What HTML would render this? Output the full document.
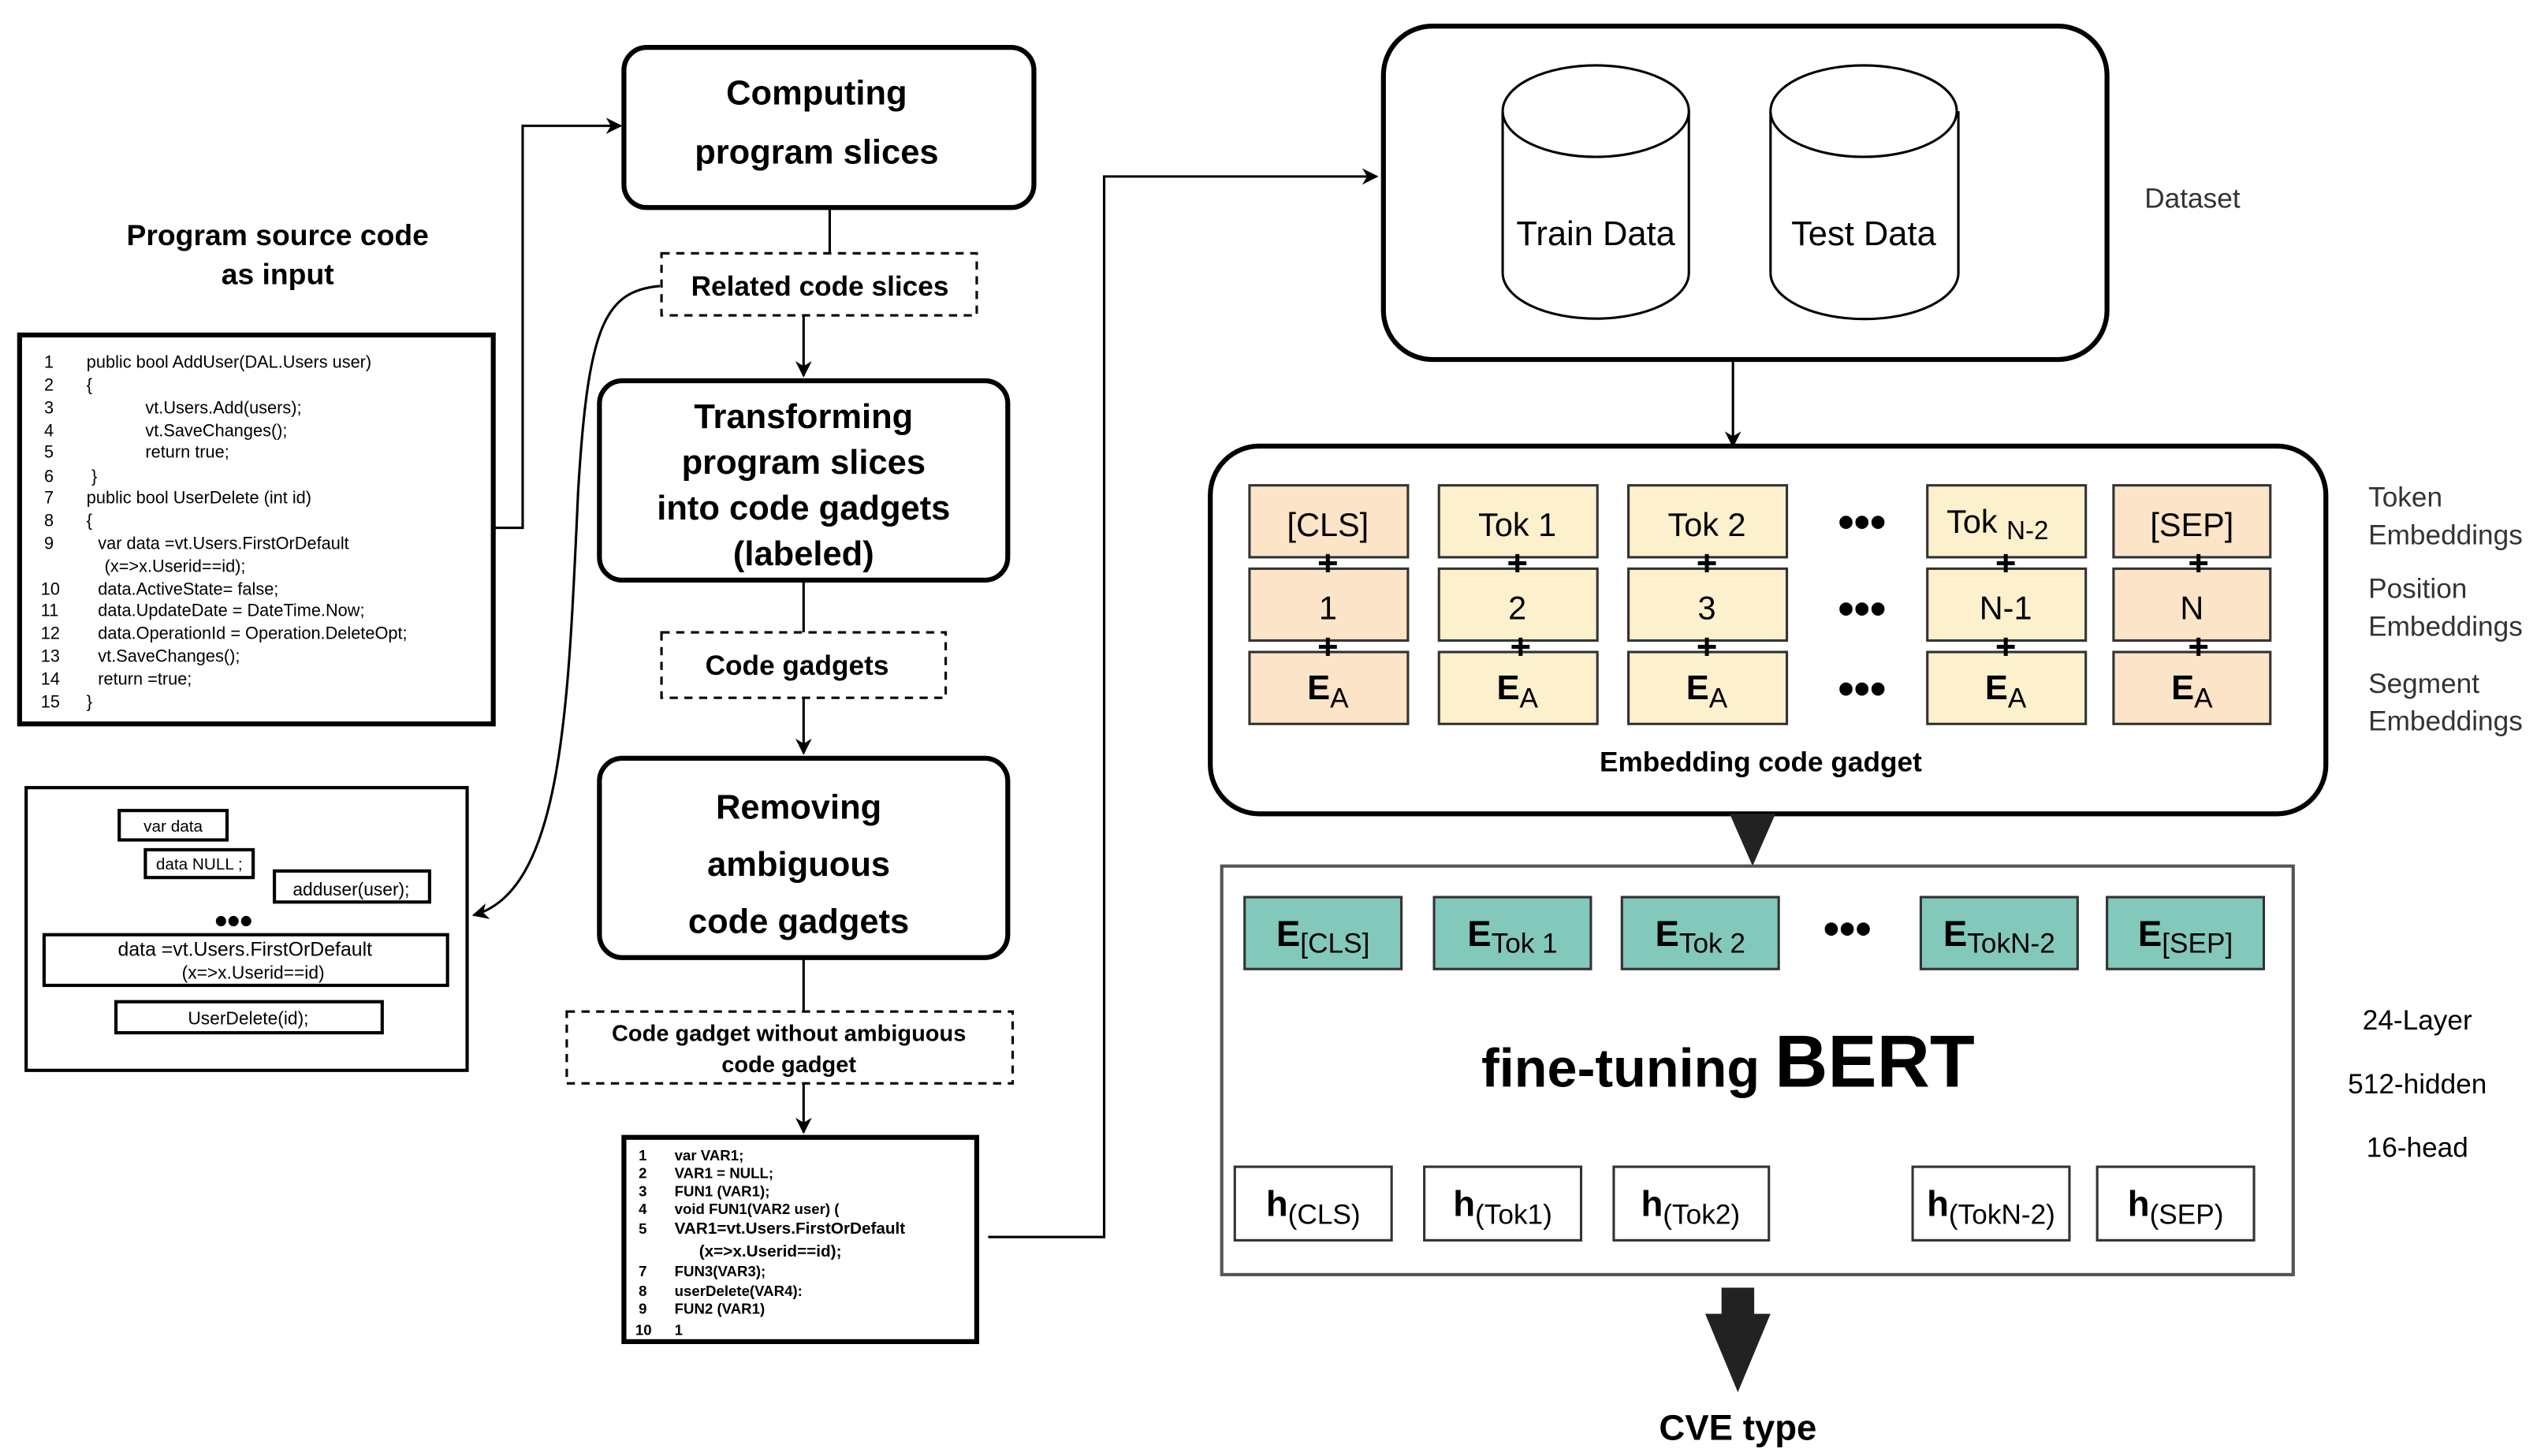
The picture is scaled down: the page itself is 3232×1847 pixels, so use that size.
<!DOCTYPE html>
<html><head><meta charset="utf-8"><style>
html,body{margin:0;padding:0;background:#fff}
svg{display:block}
text{font-family:"Liberation Sans",Arial,sans-serif}
</style></head><body>
<svg width="3232" height="1847" viewBox="0 0 1560 891" preserveAspectRatio="none" xmlns="http://www.w3.org/2000/svg">
<defs>
<marker id="ar" markerWidth="10" markerHeight="10" refX="9" refY="5" orient="auto" markerUnits="userSpaceOnUse">
<path d="M0,0 L10,5 L0,10 L3,5 Z" fill="#000"/></marker>
</defs>
<rect width="1560" height="891" fill="#fff"/>

<text x="170" y="150" font-size="18" font-weight="bold" text-anchor="middle">Program source code</text>
<text x="170" y="174" font-size="18" font-weight="bold" text-anchor="middle">as input</text>

<rect x="12" y="205" width="290" height="238" fill="#fff" stroke="#000" stroke-width="3"/>
<g font-size="10.5">
<text x="27" y="225">1</text><text x="53" y="225">public bool AddUser(DAL.Users user)</text>
<text x="27" y="239">2</text><text x="53" y="239">{</text>
<text x="27" y="253">3</text><text x="89" y="253">vt.Users.Add(users);</text>
<text x="27" y="267">4</text><text x="89" y="267">vt.SaveChanges();</text>
<text x="27" y="280">5</text><text x="89" y="280">return true;</text>
<text x="27" y="295">6</text><text x="56" y="295">}</text>
<text x="27" y="308">7</text><text x="53" y="308">public bool UserDelete (int id)</text>
<text x="27" y="322">8</text><text x="53" y="322">{</text>
<text x="27" y="336">9</text><text x="60" y="336">var data =vt.Users.FirstOrDefault</text>
<text x="64" y="350">(x=&gt;x.Userid==id);</text>
<text x="25" y="364">10</text><text x="60" y="364">data.ActiveState= false;</text>
<text x="25" y="377">11</text><text x="60" y="377">data.UpdateDate = DateTime.Now;</text>
<text x="25" y="391">12</text><text x="60" y="391">data.OperationId = Operation.DeleteOpt;</text>
<text x="25" y="405">13</text><text x="60" y="405">vt.SaveChanges();</text>
<text x="25" y="419">14</text><text x="60" y="419">return =true;</text>
<text x="25" y="433">15</text><text x="53" y="433">}</text>
</g>
<polyline points="302,323 320,323 320,77 380,77" fill="none" stroke="#000" stroke-width="1.5" marker-end="url(#ar)"/>

<rect x="16" y="482" width="270" height="173" fill="#fff" stroke="#000" stroke-width="2"/>
<g font-size="10" stroke="#000" stroke-width="2" fill="#fff">
<rect x="73" y="496" width="66" height="18"/>
<rect x="89" y="520" width="66" height="17"/>
<rect x="168" y="533" width="95" height="19"/>
<rect x="27" y="572" width="247" height="31"/>
<rect x="71" y="613" width="163" height="19"/>
</g>
<g font-size="10" text-anchor="middle">
<text x="106" y="509">var data</text>
<text x="122" y="532">data  NULL ;</text>
<text x="215" y="548" font-size="11">adduser(user);</text>
<text x="143" y="571" font-size="22" font-weight="bold">•••</text>
<text x="150" y="585" font-size="12">data =vt.Users.FirstOrDefault</text>
<text x="155" y="599" font-size="11">(x=&gt;x.Userid==id)</text>
<text x="152" y="627" font-size="11">UserDelete(id);</text>
</g>
<path d="M404,175 C370,178 360,200 354,300 C348,430 345,545 290,560" fill="none" stroke="#000" stroke-width="1.5" marker-end="url(#ar)"/>

<rect x="382" y="29" width="251" height="98" rx="14" fill="#fff" stroke="#000" stroke-width="3"/>
<text x="500" y="64" font-size="21" font-weight="bold" text-anchor="middle">Computing</text>
<text x="500" y="100" font-size="21" font-weight="bold" text-anchor="middle">program slices</text>
<line x1="508" y1="127" x2="508" y2="155" stroke="#000" stroke-width="1.5"/>
<rect x="405" y="155" width="193" height="38" fill="#fff" stroke="#000" stroke-width="1.5" stroke-dasharray="5,4"/>
<text x="502" y="181" font-size="17" font-weight="bold" text-anchor="middle">Related code slices</text>
<line x1="492" y1="193" x2="492" y2="230" stroke="#000" stroke-width="1.5" marker-end="url(#ar)"/>

<rect x="367" y="233" width="250" height="122" rx="14" fill="#fff" stroke="#000" stroke-width="3"/>
<g font-size="21" font-weight="bold" text-anchor="middle">
<text x="492" y="262">Transforming</text>
<text x="492" y="290">program slices</text>
<text x="492" y="318">into code gadgets</text>
<text x="492" y="346">(labeled)</text>
</g>
<line x1="492" y1="355" x2="492" y2="387" stroke="#000" stroke-width="1.5"/>
<rect x="405" y="387" width="174" height="40" fill="#fff" stroke="#000" stroke-width="1.5" stroke-dasharray="5,4"/>
<text x="488" y="413" font-size="17" font-weight="bold" text-anchor="middle">Code gadgets</text>
<line x1="492" y1="427" x2="492" y2="461" stroke="#000" stroke-width="1.5" marker-end="url(#ar)"/>

<rect x="367" y="464" width="250" height="122" rx="14" fill="#fff" stroke="#000" stroke-width="3"/>
<g font-size="21" font-weight="bold" text-anchor="middle">
<text x="489" y="501">Removing</text>
<text x="489" y="536">ambiguous</text>
<text x="489" y="571">code gadgets</text>
</g>
<line x1="492" y1="586" x2="492" y2="619" stroke="#000" stroke-width="1.5"/>
<rect x="347" y="619" width="273" height="44" fill="#fff" stroke="#000" stroke-width="1.5" stroke-dasharray="5,4"/>
<text x="483" y="637" font-size="14" font-weight="bold" text-anchor="middle">Code gadget without ambiguous</text>
<text x="483" y="656" font-size="14" font-weight="bold" text-anchor="middle">code gadget</text>
<line x1="492" y1="663" x2="492" y2="693" stroke="#000" stroke-width="1.5" marker-end="url(#ar)"/>

<rect x="382" y="696" width="216" height="125" fill="#fff" stroke="#000" stroke-width="3"/>
<g font-size="9" font-weight="bold">
<text x="391" y="710">1</text><text x="413" y="710">var VAR1;</text>
<text x="391" y="721">2</text><text x="413" y="721">VAR1 = NULL;</text>
<text x="391" y="732">3</text><text x="413" y="732">FUN1 (VAR1);</text>
<text x="391" y="743">4</text><text x="413" y="743">void FUN1(VAR2 user) (</text>
<text x="391" y="755">5</text><text x="413" y="755" font-size="10">VAR1=vt.Users.FirstOrDefault</text>
<text x="428" y="769" font-size="10">(x=&gt;x.Userid==id);</text>
<text x="391" y="781">7</text><text x="413" y="781">FUN3(VAR3);</text>
<text x="391" y="793">8</text><text x="413" y="793">userDelete(VAR4):</text>
<text x="391" y="804">9</text><text x="413" y="804">FUN2 (VAR1)</text>
<text x="389" y="817">10</text><text x="413" y="817">1</text>
</g>
<polyline points="605,757 676,757 676,108 843,108" fill="none" stroke="#000" stroke-width="1.5" marker-end="url(#ar)"/>

<rect x="847" y="16" width="443" height="204" rx="30" fill="#fff" stroke="#000" stroke-width="3"/>
<g fill="#fff" stroke="#000" stroke-width="1.5">
<path d="M920,68 L920,167 A57,28 0 0 0 1034,167 L1034,68"/>
<ellipse cx="977" cy="68" rx="57" ry="28"/>
<path d="M1084,68 L1084,167 A57,28 0 0 0 1199,167 L1199,68"/>
<ellipse cx="1141" cy="68" rx="57" ry="28"/>
</g>
<text x="977" y="150" font-size="21" text-anchor="middle">Train Data</text>
<text x="1141" y="150" font-size="21" text-anchor="middle">Test Data</text>
<text x="1313" y="127" font-size="17" fill="#333">Dataset</text>
<line x1="1061" y1="220" x2="1061" y2="273" stroke="#000" stroke-width="1.5" marker-end="url(#ar)"/>

<rect x="741" y="273" width="683" height="225" rx="30" fill="#fff" stroke="#000" stroke-width="3"/>
<g stroke="#333" stroke-width="1.5">
<rect x="765" y="297" width="97" height="44" fill="#fce4c8"/><rect x="765" y="348" width="97" height="44" fill="#fce4c8"/><rect x="765" y="399" width="97" height="44" fill="#fce4c8"/>
<rect x="881" y="297" width="97" height="44" fill="#fdf1cd"/><rect x="881" y="348" width="97" height="44" fill="#fdf1cd"/><rect x="881" y="399" width="97" height="44" fill="#fdf1cd"/>
<rect x="997" y="297" width="97" height="44" fill="#fdf1cd"/><rect x="997" y="348" width="97" height="44" fill="#fdf1cd"/><rect x="997" y="399" width="97" height="44" fill="#fdf1cd"/>
<rect x="1180" y="297" width="97" height="44" fill="#fdf1cd"/><rect x="1180" y="348" width="97" height="44" fill="#fdf1cd"/><rect x="1180" y="399" width="97" height="44" fill="#fdf1cd"/>
<rect x="1294" y="297" width="96" height="44" fill="#fce4c8"/><rect x="1294" y="348" width="96" height="44" fill="#fce4c8"/><rect x="1294" y="399" width="96" height="44" fill="#fce4c8"/>
</g>
<g font-size="20" text-anchor="middle">
<text x="813" y="328">[CLS]</text><text x="929" y="328">Tok 1</text><text x="1045" y="328">Tok 2</text>
<text x="1223" y="326">Tok <tspan font-size="16" dy="4">N-2</tspan></text><text x="1342" y="328">[SEP]</text>
<text x="813" y="379">1</text><text x="929" y="379">2</text><text x="1045" y="379">3</text><text x="1228" y="379">N-1</text><text x="1342" y="379">N</text>
</g>
<g font-size="21" font-weight="bold" text-anchor="middle">
<text x="813" y="428">E<tspan font-size="17" font-weight="normal" dy="5">A</tspan></text>
<text x="929" y="428">E<tspan font-size="17" font-weight="normal" dy="5">A</tspan></text>
<text x="1045" y="428">E<tspan font-size="17" font-weight="normal" dy="5">A</tspan></text>
<text x="1228" y="428">E<tspan font-size="17" font-weight="normal" dy="5">A</tspan></text>
<text x="1342" y="428">E<tspan font-size="17" font-weight="normal" dy="5">A</tspan></text>
</g>
<g font-size="22" font-weight="bold" text-anchor="middle">
<text x="813" y="352">+</text><text x="929" y="352">+</text><text x="1045" y="352">+</text><text x="1228" y="352">+</text><text x="1346" y="352">+</text>
<text x="813" y="403">+</text><text x="931" y="403">+</text><text x="1045" y="403">+</text><text x="1228" y="403">+</text><text x="1346" y="403">+</text>
</g>
<g font-size="28" font-weight="bold" text-anchor="middle">
<text x="1140" y="329">•••</text><text x="1140" y="382">•••</text><text x="1140" y="431">•••</text>
</g>
<text x="1078" y="472" font-size="17" font-weight="bold" text-anchor="middle">Embedding code gadget</text>
<g font-size="17" fill="#333">
<text x="1450" y="310">Token</text><text x="1450" y="333">Embeddings</text>
<text x="1450" y="366">Position</text><text x="1450" y="389">Embeddings</text>
<text x="1450" y="424">Segment</text><text x="1450" y="447">Embeddings</text>
</g>
<polygon points="1059,498 1087,498 1073,530" fill="#222"/>

<rect x="748" y="530" width="656" height="250" fill="#fff" stroke="#555" stroke-width="2"/>
<g fill="#82c8bb" stroke="#333" stroke-width="1.5">
<rect x="762" y="549" width="96" height="44"/><rect x="878" y="549" width="96" height="44"/><rect x="993" y="549" width="96" height="44"/><rect x="1176" y="549" width="96" height="44"/><rect x="1290" y="549" width="96" height="44"/>
</g>
<g font-size="22" font-weight="bold" text-anchor="middle">
<text x="810" y="579">E<tspan font-size="17" font-weight="normal" dy="4">[CLS]</tspan></text>
<text x="926" y="579">E<tspan font-size="17" font-weight="normal" dy="4">Tok 1</tspan></text>
<text x="1041" y="579">E<tspan font-size="17" font-weight="normal" dy="4">Tok 2</tspan></text>
<text x="1224" y="579">E<tspan font-size="17" font-weight="normal" dy="4">TokN-2</tspan></text>
<text x="1338" y="579">E<tspan font-size="17" font-weight="normal" dy="4">[SEP]</tspan></text>
</g>
<text x="1131" y="578" font-size="28" font-weight="bold" text-anchor="middle">•••</text>
<text x="1058" y="665" text-anchor="middle" font-weight="bold"><tspan font-size="33">fine-tuning </tspan><tspan font-size="45">BERT</tspan></text>
<g fill="#fff" stroke="#333" stroke-width="1.5">
<rect x="756" y="714" width="96" height="45"/><rect x="872" y="714" width="96" height="45"/><rect x="988" y="714" width="95" height="45"/><rect x="1171" y="714" width="96" height="45"/><rect x="1284" y="714" width="96" height="45"/>
</g>
<g font-size="22" font-weight="bold" text-anchor="middle">
<text x="804" y="744">h<tspan font-size="17" font-weight="normal" dy="5">(CLS)</tspan></text>
<text x="920" y="744">h<tspan font-size="17" font-weight="normal" dy="5">(Tok1)</tspan></text>
<text x="1035" y="744">h<tspan font-size="17" font-weight="normal" dy="5">(Tok2)</tspan></text>
<text x="1219" y="744">h<tspan font-size="17" font-weight="normal" dy="5">(TokN-2)</tspan></text>
<text x="1332" y="744">h<tspan font-size="17" font-weight="normal" dy="5">(SEP)</tspan></text>
</g>
<g font-size="17" text-anchor="middle">
<text x="1480" y="630">24-Layer</text><text x="1480" y="669">512-hidden</text><text x="1480" y="708">16-head</text>
</g>
<rect x="1054" y="788" width="20" height="20" fill="#222"/>
<polygon points="1044,804 1084,804 1064,852" fill="#222"/>
<text x="1064" y="881" font-size="22" font-weight="bold" text-anchor="middle">CVE type</text>
</svg>
</body></html>
